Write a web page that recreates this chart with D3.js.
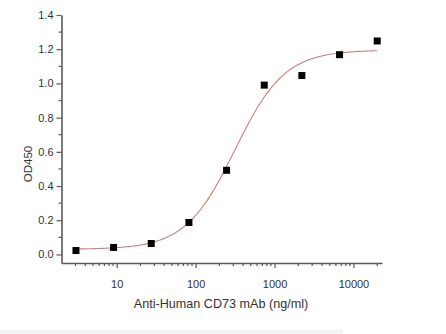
<!DOCTYPE html>
<html><head><meta charset="utf-8">
<script src="https://cdn.jsdelivr.net/npm/d3@7"></script>
<style>body{margin:0;background:#fff}svg{display:block;font-family:"Liberation Sans",Arial,sans-serif}</style>
</head><body>
<script>
const concentrations = [3.05, 9.14, 27.4, 82.3, 247, 741, 2222, 6667, 20000];
const od450 = [0.023, 0.041, 0.064, 0.187, 0.492, 0.99, 1.046, 1.168, 1.248];
// four-parameter logistic fit parameters (bottom, top, EC50, hill)
const fitBottom = 0.03, fitTop = 1.195, fitEC50 = 316, fitHill = 1.38;
const xTickValues = [10, 100, 1000, 10000];
const yTickValues = [0, 0.2, 0.4, 0.6, 0.8, 1.0, 1.2, 1.4];
const xTitle = "Anti-Human CD73 mAb (ng/ml)";
const yTitle = "OD450";

const W = 446, H = 334;
const svg = d3.select("body").append("svg").attr("width", W).attr("height", H);
svg.append("rect").attr("x",0).attr("y",330).attr("width",343).attr("height",4).attr("fill","#f3f3f3");

const x = d3.scaleLog().domain([2, 23000]).range([61.5, 382]);
const y = d3.scaleLinear().domain([-0.05, 1.4]).range([263, 15]);
const axisColor = "#5a5a5a", textColor = "#333";

// minor ticks
const xMinor = [];
for (let e = 0; e <= 4; e++) for (let m = 1; m <= 9; m++) { const v = m * Math.pow(10, e); if (v > 2 && v < 23000 && m !== 1) xMinor.push(v); }
const yMinor = d3.range(0.1, 1.4, 0.2);

const gx = svg.append("g").attr("transform", "translate(0,263)");
gx.call(d3.axisBottom(x).tickValues(xTickValues).tickFormat(d3.format("d")).tickSizeInner(5).tickSizeOuter(0).tickPadding(12));
gx.selectAll(".minor").data(xMinor).enter().append("line").attr("class","minor")
  .attr("x1", d => x(d)).attr("x2", d => x(d)).attr("y1", 0).attr("y2", 3);

const gy = svg.append("g").attr("transform", "translate(61.5,0)");
gy.call(d3.axisLeft(y).tickValues(yTickValues).tickFormat(d3.format(".1f")).tickSizeInner(5).tickSizeOuter(0).tickPadding(3));
gy.selectAll(".minor").data(yMinor).enter().append("line").attr("class","minor")
  .attr("x1", 0).attr("x2", -3).attr("y1", d => y(d)).attr("y2", d => y(d));

[gx, gy].forEach(g => {
  g.select(".domain").attr("stroke", axisColor).attr("stroke-width", 1.6);
  g.selectAll("line").attr("stroke", axisColor).attr("stroke-width", 1.2);
  g.selectAll("text").attr("fill", textColor).attr("font-size", 11).attr("font-family", "Liberation Sans, Arial, sans-serif");
});

// fit curve
const logLo = Math.log10(concentrations[0]), logHi = Math.log10(concentrations[concentrations.length - 1]);
const curveX = d3.range(0, 201).map(i => Math.pow(10, logLo + (logHi - logLo) * i / 200));
const fit = c => fitBottom + (fitTop - fitBottom) / (1 + Math.pow(fitEC50 / c, fitHill));
svg.append("path").datum(curveX)
  .attr("d", d3.line().x(d => x(d)).y(d => y(fit(d))))
  .attr("fill", "none").attr("stroke", "#c98080").attr("stroke-width", 1.1);

// points
const s = 7;
svg.selectAll(".pt").data(concentrations).enter().append("rect").attr("class","pt")
  .attr("x", d => x(d) - s/2).attr("y", (d, i) => y(od450[i]) - s/2)
  .attr("width", s).attr("height", s).attr("fill", "#000");

svg.append("text").attr("x", 221).attr("y", 308).attr("text-anchor", "middle")
  .attr("font-size", 12.6).attr("fill", textColor).text(xTitle);
svg.append("text").attr("transform", "translate(31.5,164) rotate(-90)").attr("text-anchor", "middle")
  .attr("font-size", 11.5).attr("fill", textColor).text(yTitle);
</script>
</body></html>
